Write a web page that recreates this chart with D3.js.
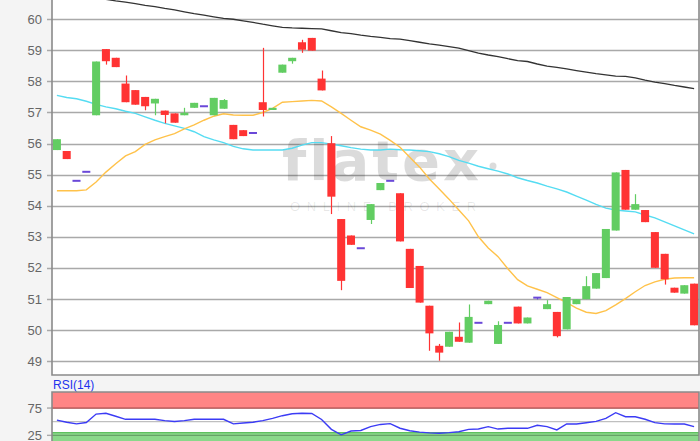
<!DOCTYPE html>
<html>
<head>
<meta charset="utf-8">
<script src="https://cdn.jsdelivr.net/npm/d3@7"></script>
<style>
  body { margin: 0; background: #f4f4f4; font-family: Arial, "Liberation Sans", sans-serif; }
</style>
</head>
<body>
<svg id="chart" width="700" height="441"></svg>
<script>
// daily candles
var openP = [55.79, 55.76, 54.80, 55.09, 56.91, 59.04, 58.76, 57.93, 57.72, 57.50, 57.29, 57.06, 56.97, 56.91, 57.15, 57.20, 56.91, 57.12, 56.60, 56.43, 56.34, 57.33,
             57.08, 58.28, 58.65, 59.26, 59.40, 58.09, 56.01, 53.57, 53.04, 52.63, 53.54, 54.50, 54.80, 54.40, 52.61, 52.06, 50.78, 49.49, 49.46, 49.78, 49.59, 50.23,
             50.83, 49.55, 50.23, 50.75, 50.21, 51.04, 50.67, 50.58, 50.02, 50.83, 50.99, 51.33, 51.67, 53.20, 55.15, 53.87, 53.86, 53.15, 52.45, 51.36, 51.17, 51.49]
  , closeP = [56.14, 55.50, 54.80, 55.09, 58.64, 58.65, 58.46, 57.33, 57.25, 57.20, 57.44, 56.92, 56.67, 56.99, 57.31, 57.20, 57.47, 57.40, 56.14, 56.24, 56.34, 57.08,
              57.15, 58.54, 58.76, 59.02, 58.99, 57.71, 54.29, 51.58, 52.74, 52.63, 54.05, 54.73, 54.80, 52.85, 51.35, 50.88, 49.89, 49.27, 49.94, 49.62, 50.42, 50.23,
              50.94, 50.16, 50.23, 50.21, 50.40, 51.04, 50.83, 49.80, 51.06, 50.99, 51.41, 51.83, 53.25, 55.07, 53.87, 54.05, 53.47, 52.00, 51.63, 51.20, 51.44, 50.15]
  , highP = [56.14, 55.76, 54.80, 55.09, 58.64, 59.04, 58.76, 58.19, 57.72, 57.50, 57.44, 57.06, 56.97, 57.15, 57.31, 57.20, 57.47, 57.43, 56.60, 56.43, 56.34, 59.08,
             57.15, 58.54, 58.76, 59.34, 59.40, 58.35, 56.24, 53.57, 53.04, 52.63, 54.05, 54.73, 54.80, 54.40, 52.61, 52.06, 50.78, 49.55, 49.94, 50.24, 50.82, 50.23,
             50.94, 50.28, 50.23, 50.75, 50.40, 51.04, 50.96, 50.58, 51.06, 50.99, 51.73, 51.83, 53.25, 55.07, 55.15, 54.37, 53.86, 53.15, 52.45, 51.36, 51.44, 51.49]
  , lowP = [55.79, 55.50, 54.80, 55.09, 56.91, 58.54, 58.46, 57.33, 57.25, 57.07, 56.91, 56.65, 56.67, 56.91, 57.15, 57.20, 56.91, 57.12, 56.14, 56.24, 56.34, 56.87,
            57.08, 58.28, 58.57, 58.92, 58.99, 57.71, 53.73, 51.28, 52.74, 52.63, 53.41, 54.50, 54.80, 52.85, 51.35, 50.88, 49.33, 49.01, 49.46, 49.62, 49.59, 50.23,
            50.83, 49.55, 50.23, 50.21, 50.21, 50.98, 50.67, 49.76, 50.02, 50.83, 50.99, 51.33, 51.67, 53.20, 53.87, 53.87, 53.47, 52.00, 51.46, 51.20, 51.17, 50.15];

// moving averages
var maShort = [54.48, 54.48, 54.48, 54.51, 54.76, 55.08, 55.35, 55.60, 55.74, 55.97, 56.12, 56.22, 56.32, 56.47, 56.60, 56.75, 56.88, 56.96, 56.92, 56.91, 56.91, 57.00,
               57.13, 57.33, 57.35, 57.37, 57.39, 57.37, 57.18, 56.97, 56.75, 56.54, 56.43, 56.30, 56.10, 55.88, 55.56, 55.24, 54.86, 54.54, 54.21, 53.86, 53.51, 53.00,
               52.64, 52.36, 51.97, 51.62, 51.42, 51.31, 51.20, 51.04, 50.88, 50.70, 50.57, 50.53, 50.62, 50.81, 51.01, 51.23, 51.43, 51.55, 51.63, 51.67, 51.68, 51.68]
  , maMid = [57.55, 57.48, 57.44, 57.36, 57.26, 57.18, 57.12, 57.04, 56.97, 56.86, 56.75, 56.65, 56.57, 56.49, 56.38, 56.22, 56.12, 56.03, 55.91, 55.83, 55.79, 55.79,
             55.79, 55.79, 55.85, 55.95, 56.03, 56.03, 55.98, 55.93, 55.87, 55.82, 55.79, 55.79, 55.82, 55.80, 55.79, 55.77, 55.74, 55.67, 55.58, 55.46, 55.37, 55.27,
             55.19, 55.11, 55.02, 54.90, 54.81, 54.73, 54.63, 54.54, 54.44, 54.31, 54.18, 54.04, 53.92, 53.86, 53.83, 53.80, 53.70, 53.61, 53.48, 53.35, 53.22, 53.09]
  , maLong = [60.87, 60.83, 60.78, 60.73, 60.69, 60.64, 60.59, 60.55, 60.50, 60.45, 60.41, 60.35, 60.30, 60.24, 60.18, 60.13, 60.08, 60.03, 60.00, 59.95, 59.90, 59.84,
              59.79, 59.74, 59.72, 59.71, 59.70, 59.69, 59.63, 59.57, 59.54, 59.49, 59.45, 59.42, 59.38, 59.36, 59.31, 59.26, 59.21, 59.17, 59.12, 59.07, 58.99, 58.91,
              58.85, 58.80, 58.73, 58.67, 58.64, 58.56, 58.49, 58.45, 58.40, 58.35, 58.30, 58.25, 58.21, 58.17, 58.16, 58.11, 58.04, 57.98, 57.93, 57.87, 57.82, 57.77];

var rsi = [53, 49, 46, 48.5, 64, 65.4, 60, 54.4, 54.4, 54.4, 54.4, 52, 50.5, 52, 54.4, 54.4, 54.4, 54.4, 46, 47.5, 49, 52,
           56, 61, 64.5, 65.4, 65, 54, 36, 26, 33, 34, 41, 45, 46.5, 38, 33.5, 31, 29.5, 28.8, 30, 31.7, 36, 36.7,
           40.9, 36.5, 37.9, 37.9, 37.9, 43.5, 41, 35, 45.8, 45.8, 48, 50.5, 56, 66.5, 59.1, 59.1, 54.5, 48.2, 46, 45.8, 45.8, 41];

var priceTicks = [49, 50, 51, 52, 53, 54, 55, 56, 57, 58, 59, 60]
  , rsiTicks = [25, 75]
  , rsiGrid = [25, 50, 75]
  , rsiOverbought = 75
  , rsiOversold = 30;

var svg = d3.select('#chart');

var left = 52
  , right = 699
  , mainTop = 0
  , mainBottom = 375
  , rsiTop = 392
  , rsiBottom = 441;

var x = d3.scaleBand()
  .domain(d3.range(openP.length))
  .range([left, right])
  .paddingInner(0.18)
  .paddingOuter(0.09);

var y = d3.scaleLinear().domain([48.55, 60.62]).range([mainBottom, mainTop]);
var yr = d3.scaleLinear().domain([0, 100]).range([449, 394.4]);

var cx = function (i) { return x(i) + x.bandwidth() / 2; };

svg.append('rect').attr('width', 700).attr('height', 441).attr('fill', '#f4f4f4');

// clip paths
var defs = svg.append('defs');
defs.append('clipPath').attr('id', 'clipMain')
  .append('rect').attr('x', left).attr('y', mainTop).attr('width', right - left).attr('height', mainBottom - mainTop);
defs.append('clipPath').attr('id', 'clipRsi')
  .append('rect').attr('x', left).attr('y', rsiTop).attr('width', right - left).attr('height', rsiBottom - rsiTop);

// ---- main panel
svg.append('rect')
  .attr('x', left).attr('y', mainTop)
  .attr('width', right - left).attr('height', mainBottom - mainTop)
  .attr('fill', '#fff');

var grid = svg.append('g');
grid.selectAll('line')
  .data(priceTicks)
  .enter()
  .append('line')
  .attr('x1', left - 5).attr('x2', right)
  .attr('y1', function (d) { return Math.round(y(d)) + 0.5; })
  .attr('y2', function (d) { return Math.round(y(d)) + 0.5; })
  .attr('stroke', '#a9a9a9')
  .attr('stroke-width', 1.4);

grid.selectAll('text')
  .data(priceTicks)
  .enter()
  .append('text')
  .attr('x', 42)
  .attr('y', function (d) { return y(d); })
  .attr('dy', '0.36em')
  .attr('text-anchor', 'end')
  .attr('font-size', 13)
  .attr('fill', '#666')
  .text(function (d) { return d; });

// watermark
var wm = svg.append('g').attr('fill', '#000').attr('fill-opacity', 0.14);
wm.append('text')
  .attr('x', 282).attr('y', 180)
  .attr('font-family', '"DejaVu Sans", sans-serif')
  .attr('font-weight', 'bold')
  .attr('font-size', 56)
  .attr('letter-spacing', 3)
  .text('flatex');
wm.append('circle').attr('cx', 493).attr('cy', 166).attr('r', 3.5);
svg.append('text')
  .attr('x', 290).attr('y', 211)
  .attr('font-size', 13)
  .attr('letter-spacing', 6.6)
  .attr('fill', '#000').attr('fill-opacity', 0.09)
  .text('ONLINE BROKER');

// moving averages
var lineGen = function (arr) {
  return d3.line()
    .x(function (d, i) { return cx(i); })
    .y(function (d) { return y(d); })(arr);
};

var lines = svg.append('g').attr('clip-path', 'url(#clipMain)').attr('fill', 'none');
lines.append('path').attr('d', lineGen(maLong)).attr('stroke', '#333').attr('stroke-width', 1.3);
lines.append('path').attr('d', lineGen(maMid)).attr('stroke', '#55dcf2').attr('stroke-width', 1.4);
lines.append('path').attr('d', lineGen(maShort)).attr('stroke', '#ffc24a').attr('stroke-width', 1.4);

// candles
var green = '#62cd62', red = '#ff3333', doji = '#6a48d8';
var colorOf = function (i) {
  if (openP[i] === closeP[i]) return doji;
  return closeP[i] > openP[i] ? green : red;
};

var candles = svg.append('g').attr('clip-path', 'url(#clipMain)');
var idx = d3.range(openP.length);

candles.selectAll('line.wick')
  .data(idx.filter(function (i) { return highP[i] > lowP[i]; }))
  .enter()
  .append('line')
  .attr('class', 'wick')
  .attr('x1', function (i) { return Math.round(cx(i)) + 0.5; })
  .attr('x2', function (i) { return Math.round(cx(i)) + 0.5; })
  .attr('y1', function (i) { return y(highP[i]); })
  .attr('y2', function (i) { return y(lowP[i]); })
  .attr('stroke', colorOf)
  .attr('stroke-width', 1.2);

candles.selectAll('rect.body')
  .data(idx.filter(function (i) { return openP[i] !== closeP[i]; }))
  .enter()
  .append('rect')
  .attr('class', 'body')
  .attr('x', function (i) { return x(i); })
  .attr('width', x.bandwidth())
  .attr('y', function (i) { return y(Math.max(openP[i], closeP[i])); })
  .attr('height', function (i) { return Math.max(2, Math.abs(y(openP[i]) - y(closeP[i]))); })
  .attr('fill', colorOf);

candles.selectAll('line.doji')
  .data(idx.filter(function (i) { return openP[i] === closeP[i]; }))
  .enter()
  .append('line')
  .attr('class', 'doji')
  .attr('x1', function (i) { return x(i); })
  .attr('x2', function (i) { return x(i) + x.bandwidth(); })
  .attr('y1', function (i) { return y(openP[i]); })
  .attr('y2', function (i) { return y(openP[i]); })
  .attr('stroke', doji)
  .attr('stroke-width', 2);

// frame
svg.append('path')
  .attr('d', 'M' + left + ',' + mainTop + 'V' + mainBottom + 'H' + right + 'V' + mainTop)
  .attr('fill', 'none')
  .attr('stroke', '#8a8a8a')
  .attr('stroke-width', 1.6);

// ---- RSI panel
svg.append('text')
  .attr('x', 53).attr('y', 389)
  .attr('font-size', 12)
  .attr('fill', '#2233ee')
  .text('RSI(14)');

svg.append('rect')
  .attr('x', left).attr('y', rsiTop)
  .attr('width', right - left).attr('height', rsiBottom - rsiTop)
  .attr('fill', '#fff');

var rsiG = svg.append('g').attr('clip-path', 'url(#clipRsi)');
rsiG.append('rect')
  .attr('x', left).attr('y', rsiTop)
  .attr('width', right - left).attr('height', yr(rsiOverbought) - rsiTop)
  .attr('fill', '#ff8585');
rsiG.append('line')
  .attr('x1', left).attr('x2', right)
  .attr('y1', yr(rsiOverbought)).attr('y2', yr(rsiOverbought))
  .attr('stroke', '#e26a6a').attr('stroke-width', 1.2);
rsiG.append('rect')
  .attr('x', left).attr('y', yr(rsiOversold))
  .attr('width', right - left).attr('height', rsiBottom - yr(rsiOversold))
  .attr('fill', '#8ad88a');
rsiG.append('line')
  .attr('x1', left).attr('x2', right)
  .attr('y1', yr(rsiOversold)).attr('y2', yr(rsiOversold))
  .attr('stroke', '#5fc05f').attr('stroke-width', 1.4);

rsiG.selectAll('line.grid')
  .data(rsiGrid)
  .enter()
  .append('line')
  .attr('class', 'grid')
  .attr('x1', left).attr('x2', right)
  .attr('y1', function (d) { return yr(d); })
  .attr('y2', function (d) { return yr(d); })
  .attr('stroke', '#000').attr('stroke-opacity', 0.25)
  .attr('stroke-width', 1.3);

rsiG.append('path')
  .attr('d', d3.line()
    .x(function (d, i) { return cx(i); })
    .y(function (d) { return yr(d); })(rsi))
  .attr('fill', 'none')
  .attr('stroke', '#3b3bf5')
  .attr('stroke-width', 1.4);

svg.selectAll('line.rtick')
  .data(rsiTicks)
  .enter()
  .append('line')
  .attr('class', 'rtick')
  .attr('x1', left - 5).attr('x2', left)
  .attr('y1', function (d) { return yr(d); })
  .attr('y2', function (d) { return yr(d); })
  .attr('stroke', '#a9a9a9').attr('stroke-width', 1.4);

svg.selectAll('text.rlab')
  .data(rsiTicks)
  .enter()
  .append('text')
  .attr('class', 'rlab')
  .attr('x', 42)
  .attr('y', function (d) { return yr(d); })
  .attr('dy', '0.36em')
  .attr('text-anchor', 'end')
  .attr('font-size', 13)
  .attr('fill', '#666')
  .text(function (d) { return d; });

svg.append('path')
  .attr('d', 'M' + left + ',' + rsiBottom + 'V' + rsiTop + 'H' + right + 'V' + rsiBottom)
  .attr('fill', 'none')
  .attr('stroke', '#8a8a8a')
  .attr('stroke-width', 1.6);
</script>
</body>
</html>
